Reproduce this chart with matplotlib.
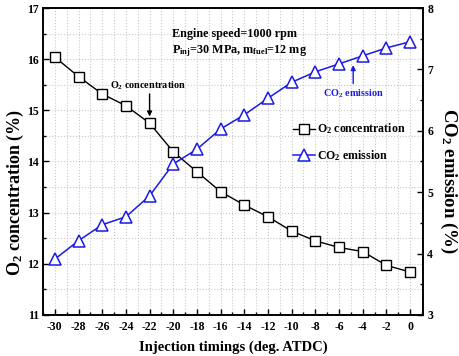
import numpy as np
import matplotlib
matplotlib.use("Agg")
import matplotlib.pyplot as plt

# --------------------------------------------------
# DATA
# --------------------------------------------------
timing = [-30, -28, -26, -24, -22, -20, -18, -16, -14, -12, -10, -8, -6, -4, -2, 0]
o2 = [16.04, 15.66, 15.32, 15.09, 14.75, 14.19, 13.80, 13.41, 13.15, 12.92,
      12.64, 12.45, 12.32, 12.24, 11.97, 11.84]
co2 = [3.91, 4.21, 4.47, 4.60, 4.94, 5.46, 5.70, 6.03, 6.26, 6.53,
       6.79, 6.96, 7.09, 7.22, 7.35, 7.45]

# --------------------------------------------------
# STYLE
# --------------------------------------------------
plt.rcParams['font.family'] = ['Liberation Serif', 'DejaVu Serif']
plt.rcParams['font.weight'] = 'bold'
plt.rcParams['axes.unicode_minus'] = False
plt.rcParams['mathtext.fontset'] = 'custom'
plt.rcParams['mathtext.rm'] = 'Liberation Serif:bold'
plt.rcParams['mathtext.bf'] = 'Liberation Serif:bold'
plt.rcParams['mathtext.it'] = 'Liberation Serif:bold'
plt.rcParams['mathtext.default'] = 'bf'

blue = '#1a1ae6'

fig = plt.figure(figsize=(4.59, 3.56), dpi=100)
ax = fig.add_axes([0.0937, 0.1152, 0.828, 0.8623])
ax2 = ax.twinx()

# --------------------------------------------------
# LINES
# --------------------------------------------------
l1, = ax.plot(timing, o2, color='black', lw=1, marker='s', ms=7.5,
              mfc='white', mec='black', mew=1,
              label=r'O$_{2}$ concentration')
l2, = ax2.plot(timing, co2, color=blue, lw=1.1, marker='^', ms=8.5,
               mfc='white', mec=blue, mew=1.1,
               label=r'CO$_{2}$ emission')

# --------------------------------------------------
# AXES
# --------------------------------------------------
ax.set_xlim(-31, 1.1)
ax.set_ylim(11, 17)
ax2.set_ylim(3, 8)
ax.set_xticks(np.arange(-30, 1, 2))
ax.set_xticks(np.arange(-31, 2, 1), minor=True)
ax.set_yticks(np.arange(11, 17.1, 1))
ax.set_yticks(np.arange(11, 17.1, 0.5), minor=True)
ax2.set_yticks(np.arange(3, 8.1, 1))
ax2.set_yticks(np.arange(3, 8.1, 0.5), minor=True)

for a in (ax, ax2):
    a.tick_params(which='both', direction='in', labelsize=8.5, width=1)
    a.tick_params(which='major', length=4)
    a.tick_params(which='minor', length=2)
    for s in a.spines.values():
        s.set_linewidth(1.2)
ax.tick_params(axis='x', pad=4)
ax.tick_params(axis='y', pad=3)
ax2.tick_params(axis='y', pad=3)

ax.grid(which='both', color='#c8c8c8', linestyle=':', linewidth=0.8)
ax.set_axisbelow(True)

ax.set_xlabel('Injection timings (deg. ATDC)', fontsize=10.5, fontweight='bold', labelpad=6)
ax.set_ylabel(r'O$_{2}$ concentration (%)', fontsize=13, fontweight='bold', va='center')
ax.yaxis.set_label_coords(-0.073, 0.40)
ax2.set_ylabel(r'CO$_{2}$ emission (%)', fontsize=13.5, fontweight='bold',
               rotation=270, va='center')
ax2.yaxis.set_label_coords(1.068, 0.436)

# --------------------------------------------------
# TEXT / ANNOTATIONS
# --------------------------------------------------
ax.text(-20.1, 16.43, 'Engine speed=1000 rpm', fontsize=8.7, fontweight='bold')
ax.text(-20.1, 16.12, r'P$_{inj}$=30 MPa, m$_{fuel}$=12 mg', fontsize=8.7, fontweight='bold')

ax.text(-22.1, 15.48, r'O$_{2}$ concentration', ha='center', va='center',
        fontsize=7.3, fontweight='bold')
ax.annotate('', xy=(-22, 14.88), xytext=(-22, 15.32),
            arrowprops=dict(arrowstyle='-|>', color='black', lw=1, mutation_scale=7,
                            shrinkA=0, shrinkB=0))
ax2.text(-4.8, 6.61, r'CO$_{2}$ emission', ha='center', va='center',
         fontsize=7.3, fontweight='bold', color=blue)
ax2.annotate('', xy=(-4.8, 7.07), xytext=(-4.8, 6.77),
             arrowprops=dict(arrowstyle='-|>', color=blue, lw=1, mutation_scale=7,
                             shrinkA=0, shrinkB=0))

ax.legend(handles=[l1, l2], loc='center left', bbox_to_anchor=(0.646, 0.562),
          frameon=False, fontsize=8.6, handlelength=1.8, handletextpad=0.2,
          labelspacing=1.0, borderaxespad=0)

fig.savefig('out.png', dpi=100)
